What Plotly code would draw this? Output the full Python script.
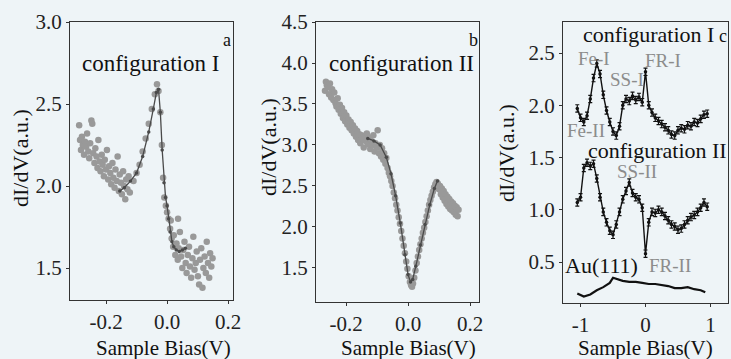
import plotly.graph_objects as go

# ---------------- panel a : configuration I ----------------
a_scatter_x = [-0.288, -0.285, -0.282, -0.279, -0.276, -0.272, -0.269, -0.265, -0.262, -0.258,
               -0.255, -0.252, -0.248, -0.245, -0.242, -0.238, -0.235, -0.231, -0.228, -0.225,
               -0.221, -0.218, -0.214, -0.211, -0.207, -0.204, -0.200, -0.197, -0.193, -0.190,
               -0.186, -0.183, -0.179, -0.176, -0.172, -0.169, -0.165, -0.162, -0.158, -0.155,
               -0.151, -0.148, -0.144, -0.141, -0.137, -0.134, -0.130, -0.126, -0.122,
               -0.110, -0.100, -0.090, -0.080, -0.070, -0.060, -0.050, -0.040, -0.033, -0.028,
               -0.022, -0.017, -0.013, -0.009, -0.004, 0.000, 0.005, 0.010, 0.015, 0.020,
               0.022, 0.027, 0.031, 0.035, 0.038, 0.042, 0.046, 0.050, 0.053, 0.057,
               0.061, 0.064, 0.068, 0.072, 0.075, 0.079, 0.083, 0.086, 0.090, 0.094,
               0.097, 0.101, 0.105, 0.108, 0.112, 0.116, 0.119, 0.123, 0.127, 0.130,
               0.134, 0.138, 0.141, 0.145, 0.149, 0.012, 0.036]
a_scatter_y = [2.37, 2.28, 2.22, 2.30, 2.25, 2.19, 2.27, 2.24, 2.32, 2.21,
               2.17, 2.26, 2.40, 2.38, 2.20, 2.14, 2.23, 2.18, 2.11, 2.28,
               2.15, 2.09, 2.19, 2.13, 2.06, 2.16, 2.10, 2.22, 2.04, 2.12,
               2.08, 2.01, 2.14, 2.05, 1.99, 2.10, 2.03, 2.18, 1.97, 2.07,
               2.02, 1.95, 2.09, 2.00, 1.92, 2.04, 1.98, 2.06, 1.96,
               2.03, 2.08, 2.13, 2.21, 2.29, 2.38, 2.47, 2.56, 2.62, 2.58,
               2.45, 2.25, 2.05, 1.93, 1.88, 1.84, 1.80, 1.74, 1.68, 1.63,
               1.70, 1.58, 1.65, 1.55, 1.62, 1.72, 1.57, 1.50, 1.61, 1.66,
               1.53, 1.47, 1.58, 1.63, 1.51, 1.44, 1.56, 1.69, 1.49, 1.53,
               1.60, 1.45, 1.40, 1.55, 1.62, 1.38, 1.50, 1.57, 1.47, 1.66,
               1.53, 1.44, 1.59, 1.51, 1.56, 1.79, 1.80]
a_fit_x = [-0.155, -0.140, -0.120, -0.100, -0.080, -0.060, -0.045, -0.035, -0.028, -0.022,
           -0.016, -0.010, -0.005, 0.000, 0.005, 0.010, 0.016, 0.022, 0.030, 0.040, 0.050, 0.060]
a_fit_y = [1.97, 1.99, 2.03, 2.08, 2.18, 2.33, 2.47, 2.57, 2.59, 2.45,
           2.22, 2.02, 1.93, 1.88, 1.80, 1.72, 1.66, 1.63, 1.61, 1.60, 1.61, 1.62]

# ---------------- panel b : configuration II ----------------
b_scatter_x = [-0.268, -0.265, -0.262, -0.258, -0.255, -0.252, -0.248, -0.245, -0.241, -0.238,
               -0.234, -0.231, -0.227, -0.224, -0.220, -0.217, -0.213, -0.210, -0.206, -0.203,
               -0.199, -0.196, -0.192, -0.189, -0.185, -0.182, -0.178, -0.175, -0.171, -0.168,
               -0.164, -0.161, -0.157, -0.154, -0.150, -0.147, -0.143, -0.140, -0.136, -0.133,
               -0.129, -0.126, -0.122, -0.119, -0.115, -0.112, -0.108, -0.105, -0.101, -0.098,
               -0.094, -0.091, -0.087, -0.084, -0.080, -0.077, -0.073, -0.070,
               -0.066, -0.062, -0.058, -0.054, -0.050, -0.046, -0.042, -0.038, -0.034, -0.030,
               -0.026, -0.022, -0.018, -0.014, -0.010, -0.006, -0.002, 0.002, 0.006, 0.010,
               0.013, 0.016, 0.020, 0.024, 0.028, 0.032, 0.036, 0.040, 0.044, 0.048,
               0.052, 0.056, 0.060, 0.064, 0.068, 0.072, 0.076, 0.080, 0.084, 0.088,
               0.092, 0.096, 0.100, 0.103, 0.106, 0.109, 0.112, 0.115, 0.118, 0.121,
               0.124, 0.127, 0.130, 0.133, 0.136, 0.139, 0.142, 0.145, 0.148, 0.151,
               0.154, 0.157, 0.160, 0.163]
b_scatter_y = [3.66, 3.77, 3.73, 3.70, 3.62, 3.75, 3.58, 3.68, 3.55, 3.64,
               3.51, 3.47, 3.57, 3.43, 3.49, 3.38, 3.45, 3.33, 3.40, 3.29,
               3.36, 3.25, 3.31, 3.21, 3.28, 3.18, 3.24, 3.14, 3.20, 3.10,
               3.17, 3.06, 3.13, 3.02, 3.12, 3.08, 2.97, 3.10, 3.05, 3.14,
               3.01, 3.09, 2.95, 3.05, 3.00, 3.12, 2.92, 3.02, 2.97, 3.18,
               2.90, 3.00, 2.86, 2.96, 2.82, 2.90, 2.77, 2.84,
               2.72, 2.66, 2.62, 2.56, 2.50, 2.42, 2.35, 2.27, 2.20, 2.12,
               2.04, 1.95, 1.86, 1.77, 1.68, 1.58, 1.49, 1.40, 1.33, 1.29,
               1.27, 1.31, 1.38, 1.47, 1.56, 1.64, 1.72, 1.79, 1.86, 1.93,
               1.99, 2.06, 2.13, 2.20, 2.27, 2.33, 2.38, 2.43, 2.48, 2.52,
               2.55, 2.53, 2.46, 2.50, 2.40, 2.47, 2.36, 2.44, 2.32, 2.40,
               2.28, 2.37, 2.25, 2.34, 2.22, 2.31, 2.20, 2.29, 2.18, 2.26,
               2.15, 2.24, 2.13, 2.21]
b_fit_x = [-0.130, -0.110, -0.090, -0.070, -0.055, -0.040, -0.025, -0.010, 0.000, 0.008,
           0.015, 0.025, 0.040, 0.055, 0.070, 0.085, 0.095]
b_fit_y = [3.08, 3.05, 3.00, 2.85, 2.65, 2.38, 2.05, 1.66, 1.42, 1.33,
           1.36, 1.52, 1.78, 2.03, 2.27, 2.47, 2.56]

# ---------------- panel c : spectra over a wide bias range ----------------
c_bias = [-1.05, -1.00, -0.95, -0.90, -0.85, -0.80, -0.75, -0.70, -0.65, -0.60,
          -0.55, -0.50, -0.45, -0.40, -0.35, -0.30, -0.25, -0.20, -0.15, -0.10,
          -0.05, 0.00, 0.05, 0.10, 0.15, 0.20, 0.25, 0.30, 0.35, 0.40,
          0.45, 0.50, 0.55, 0.60, 0.65, 0.70, 0.75, 0.80, 0.85, 0.90, 0.95]
c_config1 = [1.97, 1.88, 1.84, 1.90, 2.06, 2.26, 2.40, 2.30, 2.10, 1.95,
             1.84, 1.75, 1.71, 1.80, 2.00, 2.06, 2.04, 2.09, 2.05, 2.08,
             2.03, 2.32, 2.00, 1.93, 1.88, 1.85, 1.82, 1.79, 1.76, 1.72,
             1.71, 1.76, 1.78, 1.77, 1.81, 1.80, 1.84, 1.83, 1.87, 1.91, 1.92]
c_config2 = [1.07, 1.12, 1.40, 1.45, 1.42, 1.44, 1.30, 1.12, 0.98, 0.88,
             0.80, 0.76, 0.86, 0.98, 1.10, 1.18, 1.26, 1.16, 1.12, 1.10,
             1.02, 0.58, 0.88, 0.98, 0.97, 1.00, 0.98, 0.94, 0.90, 0.86,
             0.84, 0.81, 0.82, 0.86, 0.90, 0.93, 0.95, 0.98, 1.02, 1.07, 1.03]
c_err = [0.035] * len(c_bias)
au_bias = [-1.05, -0.95, -0.85, -0.75, -0.65, -0.55, -0.50, -0.45, -0.35, -0.25, -0.15,
           -0.05, 0.05, 0.15, 0.25, 0.35, 0.45, 0.55, 0.65, 0.75, 0.85, 0.92]
au_didv = [0.20, 0.17, 0.19, 0.23, 0.26, 0.30, 0.35, 0.34, 0.32, 0.31, 0.31,
           0.30, 0.29, 0.29, 0.28, 0.27, 0.25, 0.25, 0.26, 0.24, 0.23, 0.21]

# tick labels
ab_xticks = [-0.2, 0.0, 0.2]
ab_xtext = ["-0.2", "0.0", "0.2"]
a_yticks = [1.5, 2.0, 2.5, 3.0]
b_yticks = [1.5, 2.0, 2.5, 3.0, 3.5, 4.0, 4.5]
c_xticks = [-1, 0, 1]
c_xtext = ["-1", "0", "1"]
c_yticks = [0.5, 1.0, 1.5, 2.0, 2.5]

W, H = 731, 359
FONT = "Liberation Serif"
BG = "#eef4f7"
GRAY = "#999999"
FIT = "#4a4a4a"


def px(x):
    return x / W


def py(y):
    return 1 - y / H


fig = go.Figure()

scatter_style = dict(mode="markers", marker=dict(color=GRAY, size=6.5), showlegend=False)
fit_style = dict(mode="lines+markers", line=dict(color=FIT, width=1.3),
                 marker=dict(color=FIT, size=3.5), showlegend=False)

fig.add_trace(go.Scatter(x=a_scatter_x, y=a_scatter_y, xaxis="x", yaxis="y", **scatter_style))
fig.add_trace(go.Scatter(x=a_fit_x, y=a_fit_y, xaxis="x", yaxis="y", **fit_style))
fig.add_trace(go.Scatter(x=b_scatter_x, y=b_scatter_y, xaxis="x2", yaxis="y2", **scatter_style))
fig.add_trace(go.Scatter(x=b_fit_x, y=b_fit_y, xaxis="x2", yaxis="y2", **fit_style))

spec_style = dict(mode="lines+markers", line=dict(color="#111111", width=1.4),
                  marker=dict(color="#111111", size=3.5), showlegend=False)
err_style = dict(type="data", array=c_err, color="#111111", thickness=1.2, width=2)
fig.add_trace(go.Scatter(x=c_bias, y=c_config1, xaxis="x3", yaxis="y3",
                         error_y=err_style, **spec_style))
fig.add_trace(go.Scatter(x=c_bias, y=c_config2, xaxis="x3", yaxis="y3",
                         error_y=err_style, **spec_style))
fig.add_trace(go.Scatter(x=au_bias, y=au_didv, xaxis="x3", yaxis="y3", mode="lines",
                         line=dict(color="#111111", width=2.2), showlegend=False))

axis_common = dict(showline=True, linecolor="#333333", linewidth=1.2, mirror=True,
                   ticks="outside", ticklen=3, tickwidth=1, tickcolor="#333333",
                   showgrid=False, zeroline=False, automargin=False,
                   tickfont=dict(family=FONT, size=21, color="#222222"))

fig.update_layout(
    width=W, height=H,
    margin=dict(l=0, r=0, t=0, b=0, pad=0),
    paper_bgcolor=BG, plot_bgcolor=BG,
    font=dict(family=FONT, color="#222222"),
    xaxis=dict(domain=[px(70), px(233)], range=[-0.318, 0.216], anchor="y",
               tickvals=ab_xticks, ticktext=ab_xtext, **axis_common),
    yaxis=dict(domain=[py(300), py(22)], range=[1.305, 3.0], anchor="x",
               tickvals=a_yticks, tickformat=".1f", **axis_common),
    xaxis2=dict(domain=[px(316), px(479)], range=[-0.297, 0.229], anchor="y2",
                tickvals=ab_xticks, ticktext=ab_xtext, **axis_common),
    yaxis2=dict(domain=[py(302), py(22)], range=[1.085, 4.5], anchor="x2",
                tickvals=b_yticks, tickformat=".1f", **axis_common),
    xaxis3=dict(domain=[px(563), px(728)], range=[-1.27, 1.27], anchor="y3",
                tickvals=c_xticks, ticktext=c_xtext, **axis_common),
    yaxis3=dict(domain=[py(303), py(22)], range=[0.108, 2.797], anchor="x3",
                tickvals=c_yticks, tickformat=".1f", **axis_common),
)

ann = []


def label(x, y, text, size=20, color="#111111", angle=0):
    ann.append(dict(x=px(x), y=py(y), xref="paper", yref="paper", text=text,
                    showarrow=False, textangle=angle, xanchor="center", yanchor="middle",
                    font=dict(family=FONT, size=size, color=color)))


# axis titles
for cx in (163, 408, 645):
    label(cx, 348, "Sample Bias(V)", size=21)
label(20, 158, "dI/dV(a.u.)", size=22, angle=-90)
label(268, 147, "dI/dV(a.u.)", size=22, angle=-90)
label(506, 153, "dI/dV(a.u.)", size=22, angle=-90)

# panel labels
label(150, 63, "configuration I", size=23)
label(227, 40, "a", size=18)
label(401, 63, "configuration II", size=23)
label(473, 40, "b", size=18)
label(648, 35, "configuration I", size=22)
label(723, 36, "c", size=18)

# feature labels in panel c
label(594, 58, "Fe-I", size=19, color="#8c8c8c")
label(663, 61, "FR-I", size=19, color="#8c8c8c")
label(627, 80, "SS-I", size=19, color="#8c8c8c")
label(586, 130, "Fe-II", size=19, color="#8c8c8c")
label(657, 150, "configuration II", size=22)
label(637, 171, "SS-II", size=19, color="#8c8c8c")
label(601, 265, "Au(111)", size=22)
label(670, 265, "FR-II", size=19, color="#8c8c8c")

fig.update_layout(annotations=ann)
fig.write_html("out.html")
